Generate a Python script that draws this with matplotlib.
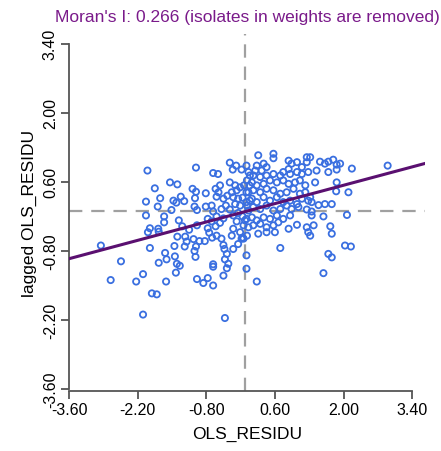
import numpy as np
import matplotlib
matplotlib.use('Agg')
import matplotlib.pyplot as plt

# valores (residuo OLS e residuo defasado)
ols_residu = [
    -2.95, -2.54, -2.75, -2.23, -2.09, -2.09, -1.91, -1.81, -1.95, -2.00,
    -2.03, -2.03, -1.95, -1.99, -1.77, -1.78, -1.85, -1.74, -1.79, -1.66,
    -1.66, -1.54, -1.39, -1.47, -1.51, -1.41, -1.45, -1.64, -1.77, -1.61,
    -1.44, -1.40, -1.34, -1.42, -1.62, -1.32, -1.25, -1.36, -1.29, -1.39,
    -1.23, -1.15, -1.20, -1.24, -1.08, -1.01, -1.01, -1.03, -1.04, -0.99,
    -0.99, -1.06, -1.01, -1.04, -1.02, -0.94, -0.83, -0.99, -0.86, -0.77,
    -0.66, -0.81, -0.81, -0.77, -0.77, -0.74, -0.68, -0.66, -0.66, -0.45,
    -0.42, -0.66, -0.56, -0.61, -0.55, -0.59, -0.52, -0.45, -0.37, -0.69,
    -0.66, -0.59, -0.69, -0.61, -0.52, -0.45, -0.49, -0.40, -0.32, -0.59,
    -0.49, -0.45, -0.43, -0.38, -0.42, -0.35, -0.38, -0.32, -0.26, -0.19,
    -0.08, 0.02, -0.32, -0.21, -0.28, -0.18, -0.11, -0.03, 0.02, -0.25,
    -0.15, -0.06, 0.02, -0.21, -0.11, -0.25, -0.15, -0.06, 0.02, -0.18,
    -0.04, -0.25, -0.11, -0.28, -0.08, -0.15, -0.06, -0.25, 0.02, 0.02,
    0.26, 0.57, 0.57, 0.37, 0.23, 0.20, 0.33, 0.43, 0.88, 0.94,
    0.88, 1.05, 1.25, 1.32, 1.25, 1.15, 1.52, 1.62, 1.69, 1.79,
    1.86, 1.93, 2.17, 2.90, 1.69, 1.86, 1.45, 0.16, 0.30, 0.43,
    0.57, 0.71, 0.77, 0.91, 1.05, 1.15, 1.28, 0.13, 0.23, 0.37,
    0.50, 0.64, 0.77, 0.88, 1.01, 1.11, 1.22, 1.42, 1.86, 1.85,
    2.10, 0.16, 0.30, 0.43, 0.57, 0.71, 0.84, 0.98, 1.11, 1.22,
    1.32, 0.13, 0.23, 0.37, 0.50, 0.64, 0.77, 0.91, 1.05, 1.15,
    1.28, 1.35, 1.49, 1.62, 1.76, 0.16, 0.30, 0.43, 0.57, 0.71,
    0.84, 0.94, 1.08, 1.25, 1.35, 1.35, 1.59, 2.07, 0.13, 0.23,
    0.37, 0.50, 0.64, 0.77, 0.91, 0.16, 0.30, 0.43, 0.57, 0.67,
    0.88, 1.05, 1.25, 1.39, 1.28, 1.32, 1.73, 1.76, 0.26, 0.43,
    0.60, 0.71, 2.03, 2.15, 1.69, 1.76, 1.59, 0.23,
    0.06, 0.03, 0.06, 0.03, 0.06, -0.01, 0.06, 0.03, -0.04, 0.09,
    0.09, 0.08,
]
lagged_ols_residu = [
    -0.69, -1.01, -1.39, -1.42, -1.27, -2.09, -1.66, -1.68, -0.74, 0.83,
    0.20, -0.08, -0.34, -0.42, -0.41, -0.35, 0.47, 0.27, 0.10, -0.10,
    -0.22, 0.59, 0.55, 0.22, 0.03, 0.18, -0.70, -0.84, -1.04, -0.97,
    -0.91, -1.06, -1.10, -1.24, -1.42, 0.30, 0.21, -0.18, -0.30, -0.51,
    -0.51, -0.37, -0.61, -0.71, 0.46, 0.40, 0.89, 0.27, 0.10, 0.03,
    -0.28, -0.56, -0.71, -0.80, -0.92, -0.60, -0.60, -1.37, -1.45, -1.35,
    -1.50, 0.37, 0.10, -0.15, -0.34, -0.43, -0.53, -1.07, -1.12, -1.30,
    -2.16, 0.78, 0.76, 0.46, 0.39, 0.30, 0.53, 0.26, 0.32, 0.12,
    0.00, -0.10, -0.20, -0.30, -0.23, -0.14, 0.05, 0.12, 0.04, -0.49,
    -0.55, -0.68, -0.76, -0.86, -0.97, -1.06, -1.15, 0.99, 0.85, 0.93,
    0.85, 0.93, 0.59, 0.53, 0.39, 0.43, 0.49, 0.53, 0.39, 0.29,
    0.26, 0.28, 0.19, 0.15, 0.12, -0.08, -0.03, -0.10, -0.15, -0.20,
    -0.28, -0.35, -0.42, -0.49, -0.55, -0.66, -0.53, -0.76, -0.89, -1.16,
    1.14, 1.17, 1.08, 0.97, 0.93, 0.83, 0.83, 0.90, 1.03, 0.97,
    0.86, 1.00, 1.10, 1.10, 1.00, 0.90, 1.01, 0.97, 1.01, 1.05,
    0.95, 0.97, 0.87, 0.93, 0.80, 0.85, 0.83, 0.73, 0.70, 0.73,
    0.76, 0.73, 0.80, 0.76, 0.80, 0.76, 0.80, 0.59, 0.53, 0.56,
    0.63, 0.59, 0.63, 0.56, 0.59, 0.63, 0.53, 0.59, 0.59, 0.41,
    0.39, 0.43, 0.39, 0.46, 0.43, 0.36, 0.39, 0.46, 0.36, 0.39,
    0.29, 0.26, 0.19, 0.29, 0.22, 0.29, 0.19, 0.22, 0.15, 0.26,
    0.22, 0.19, 0.13, 0.15, 0.15, 0.09, 0.05, 0.12, 0.02, 0.05,
    0.12, 0.05, 0.09, 0.04, 0.00, -0.08, -0.10, -0.07, -0.12, -0.18,
    -0.12, -0.15, -0.08, -0.15, -0.08, -0.28, -0.25, -0.32, -0.28, -0.22,
    -0.35, -0.27, -0.32, -0.28, -0.42, -0.49, -0.30, -0.45, -0.45, -0.42,
    -0.42, -0.74, -0.69, -0.71, -0.86, -0.93, -1.25, -1.42,
    0.80, 0.63, 0.39, 0.12, 0.02, -0.18, -0.32, -0.49, -0.55, 0.73,
    0.22, 0.53,
]
moran_i = 0.266
ticks = [-3.60, -2.20, -0.80, 0.60, 2.00, 3.40]
tick_labels = ['-3.60', '-2.20', '-0.80', '0.60', '2.00', '3.40']

plt.rcParams['font.family'] = ['Liberation Sans', 'DejaVu Sans']

fig = plt.figure(figsize=(4.41, 4.52), dpi=100)
ax = fig.add_axes([0.1565, 0.1327, 0.807, 0.79])

ax.axhline(0, color='#a0a0a0', lw=1.6, ls=(0, (6, 4)), zorder=1)
ax.axvline(0, color='#a0a0a0', lw=1.6, ls=(0, (6, 4)), zorder=1)

ax.scatter(ols_residu, lagged_ols_residu, s=20, facecolors='none',
           edgecolors='#3a6fe0', linewidths=1.3, zorder=2)

xs = np.array([-3.6, 3.66])
ax.plot(xs, moran_i * xs, color='#5a1070', lw=2.2, zorder=3)

ax.set_xlim(-3.6, 3.66)
ax.set_ylim(-3.64, 3.6)
ax.set_xticks(ticks)
ax.set_xticklabels(tick_labels, fontsize=11.5)
ax.set_yticks(ticks)
ax.set_yticklabels(tick_labels, fontsize=11.5, rotation=90, va='center')
ax.tick_params(direction='out', length=6, width=1.3, color='#555555', pad=2)

for s in ['top', 'right']:
    ax.spines[s].set_visible(False)
ax.spines['left'].set_bounds(-3.6, 3.4)
ax.spines['bottom'].set_bounds(-3.6, 3.4)
for s in ['left', 'bottom']:
    ax.spines[s].set_linewidth(1.3)
    ax.spines[s].set_color('#555555')

ax.set_xlabel('OLS_RESIDU', fontsize=12.5, labelpad=6)
ax.set_ylabel('lagged OLS_RESIDU', fontsize=12.5, labelpad=4)
fig.text(0.560, 0.962, "Moran's I: 0.266 (isolates in weights are removed)",
         ha='center', va='center', fontsize=12.5, color='#7a1a8a')

fig.savefig('out.png', dpi=100)
